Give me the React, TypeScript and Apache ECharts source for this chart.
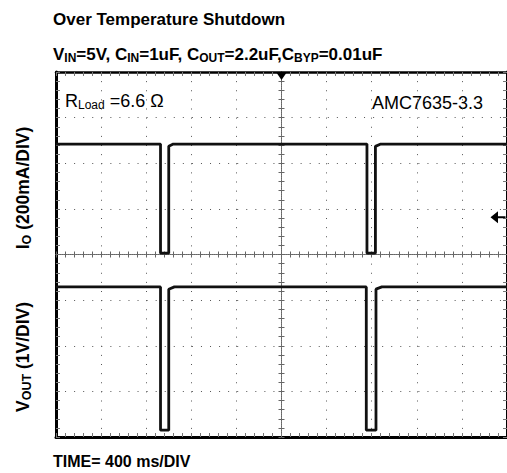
import React, { useEffect, useRef } from "react";
import * as echarts from "echarts";

// ---- data ----
// time axis: 400 ms/div, trigger in the middle of the screen
const timeMin = -2000;
const timeMax = 2000;
const timeStep = 400;
// channel 1 : output current, 200 mA/div, ground on the centre line
const ioMin = -800;
const ioMax = 800;
const ioStep = 200;
// channel 2 : output voltage, 1 V/div, ground on the bottom line
const voutMin = 0;
const voutMax = 8;
const voutStep = 1;

const ioTimeMs = [-2000, -1073, -1073, -1000, -1000, -960, 758, 758, 833, 833, 880, 2000];
const ioCurrentMa = [484, 484, 6, 6, 474, 484, 484, 6, 6, 474, 484, 484];

const voutTimeMs = [-2000, -1073, -1073, -1000, -1000, -950, 752, 752, 838, 838, 890, 2000];
const voutVolts = [3.29, 3.29, 0.15, 0.15, 3.24, 3.29, 3.29, 0.15, 0.15, 3.24, 3.29, 3.29];

const triggerTimeMs = 0;
const triggerLevelMa = 163;

const FONT = '"Liberation Sans", Arial, Helvetica, sans-serif';

export default function App() {
  const ref = useRef<HTMLDivElement>(null);

  useEffect(() => {
    if (!ref.current) return;
    const chart = echarts.init(ref.current, undefined, { renderer: "svg" });

    const borderLine = { show: true, onZero: false, lineStyle: { color: "#000", width: 3 } };
    const borderTick = { show: true, inside: true, length: 4, lineStyle: { color: "#777", width: 1 } };
    const borderMinor = { show: true, splitNumber: 5, length: 4, lineStyle: { color: "#777", width: 1 } };
    const centreLine = (axisIdx: number) => ({
      show: true,
      onZero: true,
      onZeroAxisIndex: axisIdx,
      lineStyle: { color: "#666", width: 1, type: "dotted" },
    });
    const centreTick = (inside: boolean) => ({ show: true, inside, length: 3, lineStyle: { color: "#666", width: 1 } });
    const centreMinor = { show: true, splitNumber: 5, length: 3, lineStyle: { color: "#666", width: 1 } };
    const noLabel = { show: false };

    const xBase = { type: "value", min: timeMin, max: timeMax, interval: timeStep, axisLabel: noLabel };
    const yIoBase = { type: "value", min: ioMin, max: ioMax, interval: ioStep, axisLabel: noLabel };

    const axisTitleRich = {
      m: { fontFamily: FONT, fontWeight: "bold", fontSize: 17.5, lineHeight: 20, fill: "#000" },
      s: { fontFamily: FONT, fontWeight: "bold", fontSize: 12.5, lineHeight: 12, verticalAlign: "bottom", fill: "#000" },
    };

    chart.setOption({
      animation: false,
      backgroundColor: "#fff",
      grid: { left: 56, top: 72, width: 453, height: 365, containLabel: false },
      xAxis: [
        {
          ...xBase,
          position: "bottom",
          axisLine: borderLine,
          axisTick: borderTick,
          minorTick: borderMinor,
          splitLine: { show: true, lineStyle: { color: "#555", width: 1, type: [1, 8.125] } },
        },
        { ...xBase, position: "top", axisLine: { ...borderLine, lineStyle: { color: "#000", width: 2.5 } }, axisTick: borderTick, minorTick: borderMinor, splitLine: { show: false } },
        { ...xBase, position: "bottom", axisLine: centreLine(0), axisTick: centreTick(true), minorTick: centreMinor, splitLine: { show: false } },
        { ...xBase, position: "bottom", axisLine: centreLine(0), axisTick: centreTick(false), minorTick: centreMinor, splitLine: { show: false } },
      ],
      yAxis: [
        {
          ...yIoBase,
          position: "left",
          axisLine: borderLine,
          axisTick: borderTick,
          minorTick: borderMinor,
          splitLine: { show: true, lineStyle: { color: "#555", width: 1, type: [1, 8.06] } },
        },
        {
          type: "value",
          min: voutMin,
          max: voutMax,
          interval: voutStep,
          position: "right",
          axisLabel: noLabel,
          axisLine: borderLine,
          axisTick: borderTick,
          minorTick: borderMinor,
          splitLine: { show: false },
        },
        { ...yIoBase, position: "left", axisLine: centreLine(0), axisTick: centreTick(true), minorTick: centreMinor, splitLine: { show: false } },
        { ...yIoBase, position: "left", axisLine: centreLine(0), axisTick: centreTick(false), minorTick: centreMinor, splitLine: { show: false } },
      ],
      series: [
        {
          name: "Io",
          type: "line",
          xAxisIndex: 0,
          yAxisIndex: 0,
          symbol: "none",
          data: ioTimeMs.map((t, i) => [t, ioCurrentMa[i]]),
          lineStyle: { color: "#111", width: 2.8 },
          markPoint: {
            label: { show: false },
            itemStyle: { color: "#000" },
            data: [
              { coord: [triggerTimeMs, ioMax], symbol: "triangle", symbolRotate: 180, symbolSize: [11, 8], symbolOffset: [0, 4] },
              {
                coord: [timeMax, triggerLevelMa],
                symbol: "path://M0,6L8,0L8,5L16,5L16,7L8,7L8,12Z",
                symbolSize: [15, 12],
                symbolOffset: [-9, 0],
              },
            ],
          },
        },
        {
          name: "Vout",
          type: "line",
          xAxisIndex: 0,
          yAxisIndex: 1,
          symbol: "none",
          data: voutTimeMs.map((t, i) => [t, voutVolts[i]]),
          lineStyle: { color: "#111", width: 2.8 },
        },
      ],
      graphic: [
        {
          type: "text",
          left: 53,
          top: 11,
          style: { text: "Over Temperature Shutdown", font: `bold 17px ${FONT}`, fill: "#000" },
        },
        {
          type: "text",
          left: 53,
          top: 46,
          style: {
            text: "{m|V}{s|IN}{m|=5V, C}{s|IN}{m|=1uF, C}{s|OUT}{m|=2.2uF,C}{s|BYP}{m|=0.01uF}",
            fill: "#000",
            rich: {
              m: { fontFamily: FONT, fontWeight: "bold", fontSize: 17, lineHeight: 19, fill: "#000" },
              s: { fontFamily: FONT, fontWeight: "bold", fontSize: 12, lineHeight: 12, verticalAlign: "bottom", fill: "#000" },
            },
          },
        },
        {
          type: "text",
          left: 65,
          top: 92,
          style: {
            text: "{m|R}{s|Load}{m| =6.6 Ω}",
            fill: "#000",
            rich: {
              m: { fontFamily: FONT, fontSize: 18, lineHeight: 20, fill: "#000" },
              s: { fontFamily: FONT, fontSize: 12, lineHeight: 12, verticalAlign: "bottom", fill: "#000" },
            },
          },
        },
        {
          type: "text",
          left: 372,
          top: 94,
          style: { text: "AMC7635-3.3", font: `18px ${FONT}`, fill: "#000" },
        },
        {
          type: "text",
          x: 23,
          y: 188,
          rotation: Math.PI / 2,
          style: {
            text: "{m|I}{s|O}{m| (200mA/DIV)}",
            align: "center",
            verticalAlign: "middle",
            fill: "#000",
            rich: axisTitleRich,
          },
        },
        {
          type: "text",
          x: 23,
          y: 357,
          rotation: Math.PI / 2,
          style: {
            text: "{m|V}{s|OUT}{m| (1V/DIV)}",
            align: "center",
            verticalAlign: "middle",
            fill: "#000",
            rich: axisTitleRich,
          },
        },
        {
          type: "text",
          left: 53,
          top: 453,
          style: { text: "TIME= 400 ms/DIV", font: `bold 16px ${FONT}`, fill: "#000" },
        },
      ],
    });

    return () => chart.dispose();
  }, []);

  return <div ref={ref} style={{ position: "fixed", left: 0, top: 0, width: 507, height: 473 }} />;
}
